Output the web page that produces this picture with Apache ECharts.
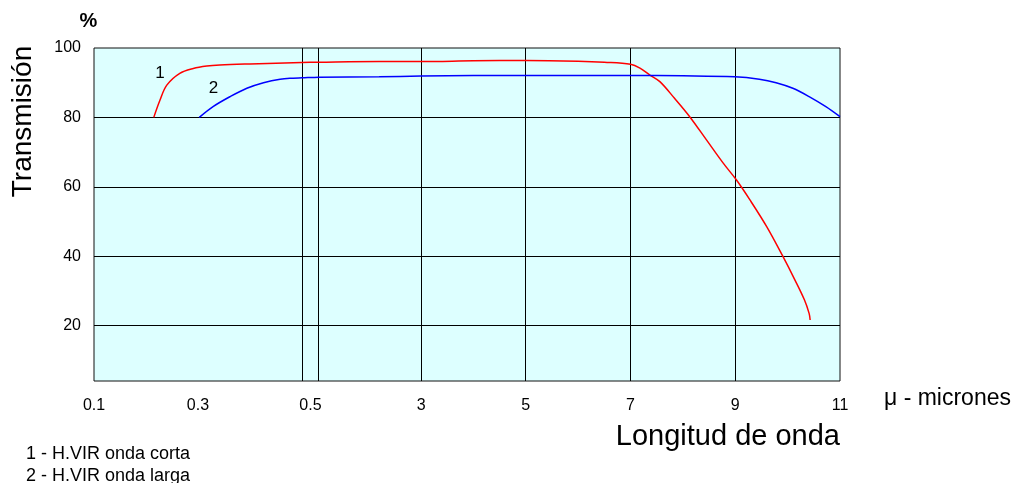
<!DOCTYPE html>
<html>
<head>
<meta charset="utf-8">
<style>html,body{margin:0;padding:0;background:#fff}#c{width:1019px;height:483px}</style>
<script src="https://cdn.jsdelivr.net/npm/echarts@6/dist/echarts.min.js"></script>
</head>
<body>
<div id="c"></div>
<script>
// Tick labels on the wavelength axis (microns)
const tickLabels = ['0.1', '0.3', '0.5', '3', '5', '7', '9', '11'];
const tickWaves = [0.1, 0.3, 0.5, 3, 5, 7, 9, 11];
// Vertical grid lines (wavelength); 0.5 and 1.05 bound the axis break
const gridWaves = [0.5, 1.05, 3, 5, 7, 9];
// Y axis ticks / horizontal grid lines
const yTicks = [20, 40, 60, 80, 100];

// Curve 1 - H.VIR onda corta
const redW = [0.215, 0.227, 0.240, 0.265, 0.291, 0.317, 0.342, 0.40, 0.5, 1.05, 2.2, 3, 4, 5, 6, 6.5, 7, 7.18, 7.37, 7.56, 7.84, 8.13, 8.45, 8.77, 9.02, 9.28, 9.6, 9.91, 10.14, 10.32, 10.41, 10.43];
const redV = [80, 85, 89.3, 92.7, 94.1, 94.8, 95.1, 95.4, 95.8, 95.9, 96.1, 96.1, 96.3, 96.4, 96.2, 95.9, 95.3, 94.2, 92.2, 90.3, 85.5, 80.2, 73.5, 66.8, 62, 56.2, 48.5, 39.9, 33.1, 27.4, 23.5, 21.6];
// Curve 2 - H.VIR onda larga
const blueW = [0.3025, 0.329, 0.362, 0.394, 0.426, 0.458, 0.483, 0.5, 1.05, 2.2, 3, 5, 7, 8, 8.99, 9.46, 9.78, 10.1, 10.41, 10.73, 11];
const blueV = [80, 83.1, 86, 88.4, 90, 91, 91.3, 91.4, 91.6, 91.7, 91.9, 92.1, 92.1, 92.0, 91.7, 91, 90, 88.4, 86, 83.1, 80.2];

// Broken wavelength scale: 0.1-0.5 stretched, break 0.5-1.05, then 1.05-11
const BREAK_LO = 0.5, BREAK_HI = 1.05, GAP = 0.1635, UB = 0.5036;
function pos(w) {
  if (w <= BREAK_LO) return (w - 0.1) / 0.2;
  if (w <= BREAK_HI) return 2 + GAP * (w - BREAK_LO) / (BREAK_HI - BREAK_LO);
  return 2 + GAP + (w - BREAK_HI) * UB;
}
const labelPos = tickWaves.map(w => w === BREAK_LO ? (pos(BREAK_LO) + pos(BREAK_HI)) / 2 : pos(w));

const FONT = "'Liberation Sans', Arial, Helvetica, sans-serif";
const chart = echarts.init(document.getElementById('c'), null, { renderer: 'canvas' });

function txt(text, x, y, size, opts) {
  opts = opts || {};
  return {
    type: 'text', x: x, y: y, rotation: opts.rotation || 0, silent: true,
    style: {
      text: text, fill: '#000',
      font: (opts.bold ? 'bold ' : '') + size + 'px ' + FONT,
      textAlign: opts.align || 'left', align: opts.align || 'left',
      textVerticalAlign: 'middle', verticalAlign: 'middle'
    }
  };
}

const gridLines = gridWaves.map(w => ({ xAxis: pos(w) }))
  .concat(yTicks.filter(v => v < 100).map(v => ({ yAxis: v })));

chart.setOption({
  animation: false,
  backgroundColor: '#fff',
  grid: {
    left: 94, top: 48, right: 179, bottom: 102,
    show: true, backgroundColor: '#ddffff', borderColor: '#111', borderWidth: 1
  },
  xAxis: {
    type: 'value', min: 0, max: pos(11),
    axisLine: { show: false }, axisTick: { show: false }, splitLine: { show: false },
    axisLabel: {
      customValues: labelPos,
      margin: 17, fontSize: 16, color: '#000', fontFamily: FONT,
      formatter: function (v) {
        for (let i = 0; i < labelPos.length; i++) if (Math.abs(labelPos[i] - v) < 1e-6) return tickLabels[i];
        return '';
      }
    }
  },
  yAxis: {
    type: 'value', min: 4, max: 100,
    axisLine: { show: false }, axisTick: { show: false },
    splitLine: { show: false },
    axisLabel: {
      customValues: yTicks,
      margin: 13, fontSize: 16, color: '#000', fontFamily: FONT,
      formatter: v => yTicks.indexOf(v) >= 0 ? String(v) : ''
    }
  },
  series: [
    {
      type: 'line', name: '1', data: redW.map((w, i) => [pos(w), redV[i]]),
      showSymbol: false, smooth: 0.35,
      lineStyle: { color: '#ff0000', width: 1.5 }, z: 5,
      markLine: {
        silent: true, symbol: 'none', animation: false,
        label: { show: false },
        lineStyle: { color: '#000', width: 1, type: 'solid' },
        data: gridLines
      }
    },
    {
      type: 'line', name: '2', data: blueW.map((w, i) => [pos(w), blueV[i]]),
      showSymbol: false, smooth: 0.35,
      lineStyle: { color: '#0000ff', width: 1.5 }, z: 5
    }
  ],
  graphic: [
    txt('%', 88.5, 21, 20, { bold: true, align: 'center' }),
    txt('Transmisión', 23, 121.5, 28, { align: 'center', rotation: Math.PI / 2 }),
    txt('μ - micrones', 884, 399, 23),
    txt('Longitud de onda', 840, 437, 29, { align: 'right' }),
    txt('1 - H.VIR onda corta', 26, 454, 18),
    txt('2 - H.VIR onda larga', 26, 476, 18),
    txt('1', 160, 73, 17, { align: 'center' }),
    txt('2', 213.5, 88, 17, { align: 'center' })
  ]
});
</script>
</body>
</html>
